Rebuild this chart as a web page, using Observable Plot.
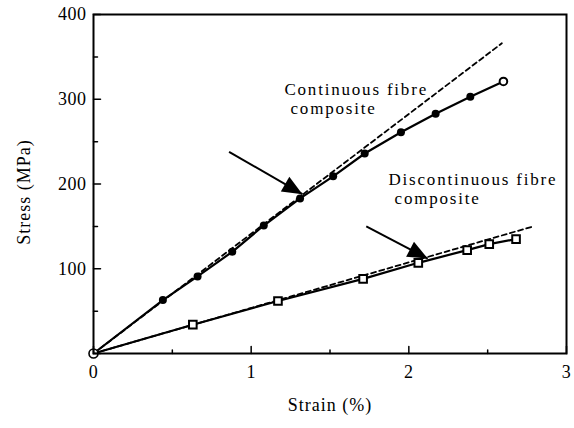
<!DOCTYPE html>
<html><head><meta charset="utf-8">
<script src="https://cdn.jsdelivr.net/npm/d3@7"></script>
<script src="https://cdn.jsdelivr.net/npm/@observablehq/plot@0.6"></script>
<style>html,body{margin:0;padding:0;background:#fff;}</style>
</head><body><div id="chart"></div>
<script>
// ---- data ----
const contStrain = [0, 0.44, 0.66, 0.88, 1.08, 1.31, 1.52, 1.72, 1.95, 2.17, 2.39, 2.60];
const contStress = [0, 63, 91, 120, 151, 183, 209, 236, 261, 283, 303, 321];
const discStrain = [0, 0.63, 1.17, 1.71, 2.06, 2.37, 2.51, 2.68];
const discStress = [0, 34, 62, 88, 107, 122, 129, 135];
const contFitStrain = [0, 2.59];
const contFitStress = [0, 366];
const discFitStrain = [0, 2.79];
const discFitStress = [0, 150];
const xTicks = [0, 1, 2, 3];
const xMinorTicks = [0.5, 1.5, 2.5];
const yTicks = [0, 100, 200, 300, 400];
const yMinorTicks = [50, 150, 250, 350];
const yTickLabels = [100, 200, 300, 400];
const labelTexts = ["Continuous fibre\n\u00a0composite", "Discontinuous fibre\n\u00a0composite"];
const labelStrain = [1.211, 1.871];
const labelStress = [321.5, 215.3];
const xTitle = "Strain (%)";
const yTitle = "Stress (MPa)";
const yTitleStress = 190.6;
const arrowFromStrain = [0.86, 1.73];
const arrowFromStress = [238, 150];
const arrowToStrain = [1.325, 2.12];
const arrowToStress = [188, 112];

// ---- layout ----
const W = 574, H = 428, ML = 93, MR = 8, MT = 14, MB = 75;
const xDomain = [0, 3], yDomain = [0, 400];
const kx = (W - ML - MR) / (xDomain[1] - xDomain[0]);
const ky = (H - MT - MB) / (yDomain[1] - yDomain[0]);

const cont = contStrain.map((x, i) => ({x, y: contStress[i]}));
const disc = discStrain.map((x, i) => ({x, y: discStress[i]}));
const contFit = contFitStrain.map((x, i) => ({x, y: contFitStress[i]}));
const discFit = discFitStrain.map((x, i) => ({x, y: discFitStress[i]}));
const labels = labelTexts.map((t, i) => ({t, x: labelStrain[i], y: labelStress[i]}));
const arrows = arrowFromStrain.map((x1, i) => {
  const a = {x1, y1: arrowFromStress[i], x2: arrowToStrain[i], y2: arrowToStress[i]};
  a.angle = Math.atan2((a.x2 - a.x1) * kx, (a.y2 - a.y1) * ky) * 180 / Math.PI;
  return a;
});

const head = {draw(ctx) { ctx.moveTo(0, 0); ctx.lineTo(-8.5, 20); ctx.lineTo(8.5, 20); ctx.closePath(); }};
const tickShape = {draw(ctx, l) { ctx.moveTo(0, 0); ctx.lineTo(0, -l); }};

const chart = Plot.plot({
  width: W, height: H,
  marginLeft: ML, marginRight: MR, marginTop: MT, marginBottom: MB,
  x: {domain: xDomain},
  y: {domain: yDomain},
  style: {fontFamily: "'Liberation Serif', 'DejaVu Serif', serif", fontSize: "18px", color: "black", background: "white"},
  marks: [
    Plot.line(contFit, {x: "x", y: "y", stroke: "black", strokeWidth: 1.8, strokeDasharray: "5,3.5"}),
    Plot.line(discFit, {x: "x", y: "y", stroke: "black", strokeWidth: 1.8, strokeDasharray: "5,3.5"}),
    Plot.line(cont, {x: "x", y: "y", stroke: "black", strokeWidth: 2.2}),
    Plot.line(disc, {x: "x", y: "y", stroke: "black", strokeWidth: 2.2}),
    Plot.dot(cont.slice(1, -1), {x: "x", y: "y", r: 4, fill: "black"}),
    Plot.dot(cont.slice(-1), {x: "x", y: "y", r: 3.8, fill: "white", stroke: "black", strokeWidth: 2}),
    Plot.dot(disc.slice(1), {x: "x", y: "y", r: 4.3, symbol: "square", fill: "white", stroke: "black", strokeWidth: 2}),
    Plot.dot(cont.slice(0, 1), {x: "x", y: "y", r: 4.5, fill: "white", stroke: "black", strokeWidth: 1.6}),
    Plot.link(arrows, {x1: "x1", y1: "y1", x2: "x2", y2: "y2", stroke: "black", strokeWidth: 2}),
    Plot.dot(arrows, {x: "x2", y: "y2", symbol: head, rotate: "angle", fill: "black", stroke: "none"}),
    Plot.text(labels, {x: "x", y: "y", text: "t", textAnchor: "start", lineAnchor: "top", lineHeight: 1.12, fontSize: 17, fill: "black", ariaDescription: "annot"}),
    // ticks pointing inward
    Plot.vector(xTicks, {x: d => d, y: yDomain[0], length: 7, rotate: 0, anchor: "start", shape: tickShape, stroke: "black", strokeWidth: 1.5}),
    Plot.vector(xMinorTicks, {x: d => d, y: yDomain[0], length: 3.5, rotate: 0, anchor: "start", shape: tickShape, stroke: "black", strokeWidth: 1.5}),
    Plot.vector(yTicks, {x: xDomain[0], y: d => d, length: 7, rotate: 90, anchor: "start", shape: tickShape, stroke: "black", strokeWidth: 1.5}),
    Plot.vector(yMinorTicks, {x: xDomain[0], y: d => d, length: 4, rotate: 90, anchor: "start", shape: tickShape, stroke: "black", strokeWidth: 1.5}),
    Plot.axisX({ticks: xTicks, tickSize: 0, tickPadding: 12, tickFormat: d => d, label: null}),
    Plot.axisY({ticks: yTickLabels, tickSize: 0, tickPadding: 7, tickFormat: d => d, label: null}),
    Plot.text([xTitle], {frameAnchor: "bottom", dy: 57, fontSize: 18, fill: "black", ariaDescription: "xlabel"}),
    Plot.text([yTitle], {x: xDomain[0], y: yTitleStress, dx: -69, rotate: -90, fontSize: 18, fill: "black", ariaDescription: "ylabel"}),
    Plot.frame({stroke: "black", strokeWidth: 2})
  ]
});
const sel = d3.select(chart);
sel.selectAll('g[aria-description="annot"] text').style("letter-spacing", "1.8px");
sel.selectAll('g[aria-description="xlabel"] text, g[aria-description="ylabel"] text').style("letter-spacing", "1px");
sel.selectAll('g[aria-label="x-axis tick label"] text, g[aria-label="y-axis tick label"] text').style("letter-spacing", "0.5px");
document.getElementById("chart").appendChild(chart);
</script>
</body></html>
